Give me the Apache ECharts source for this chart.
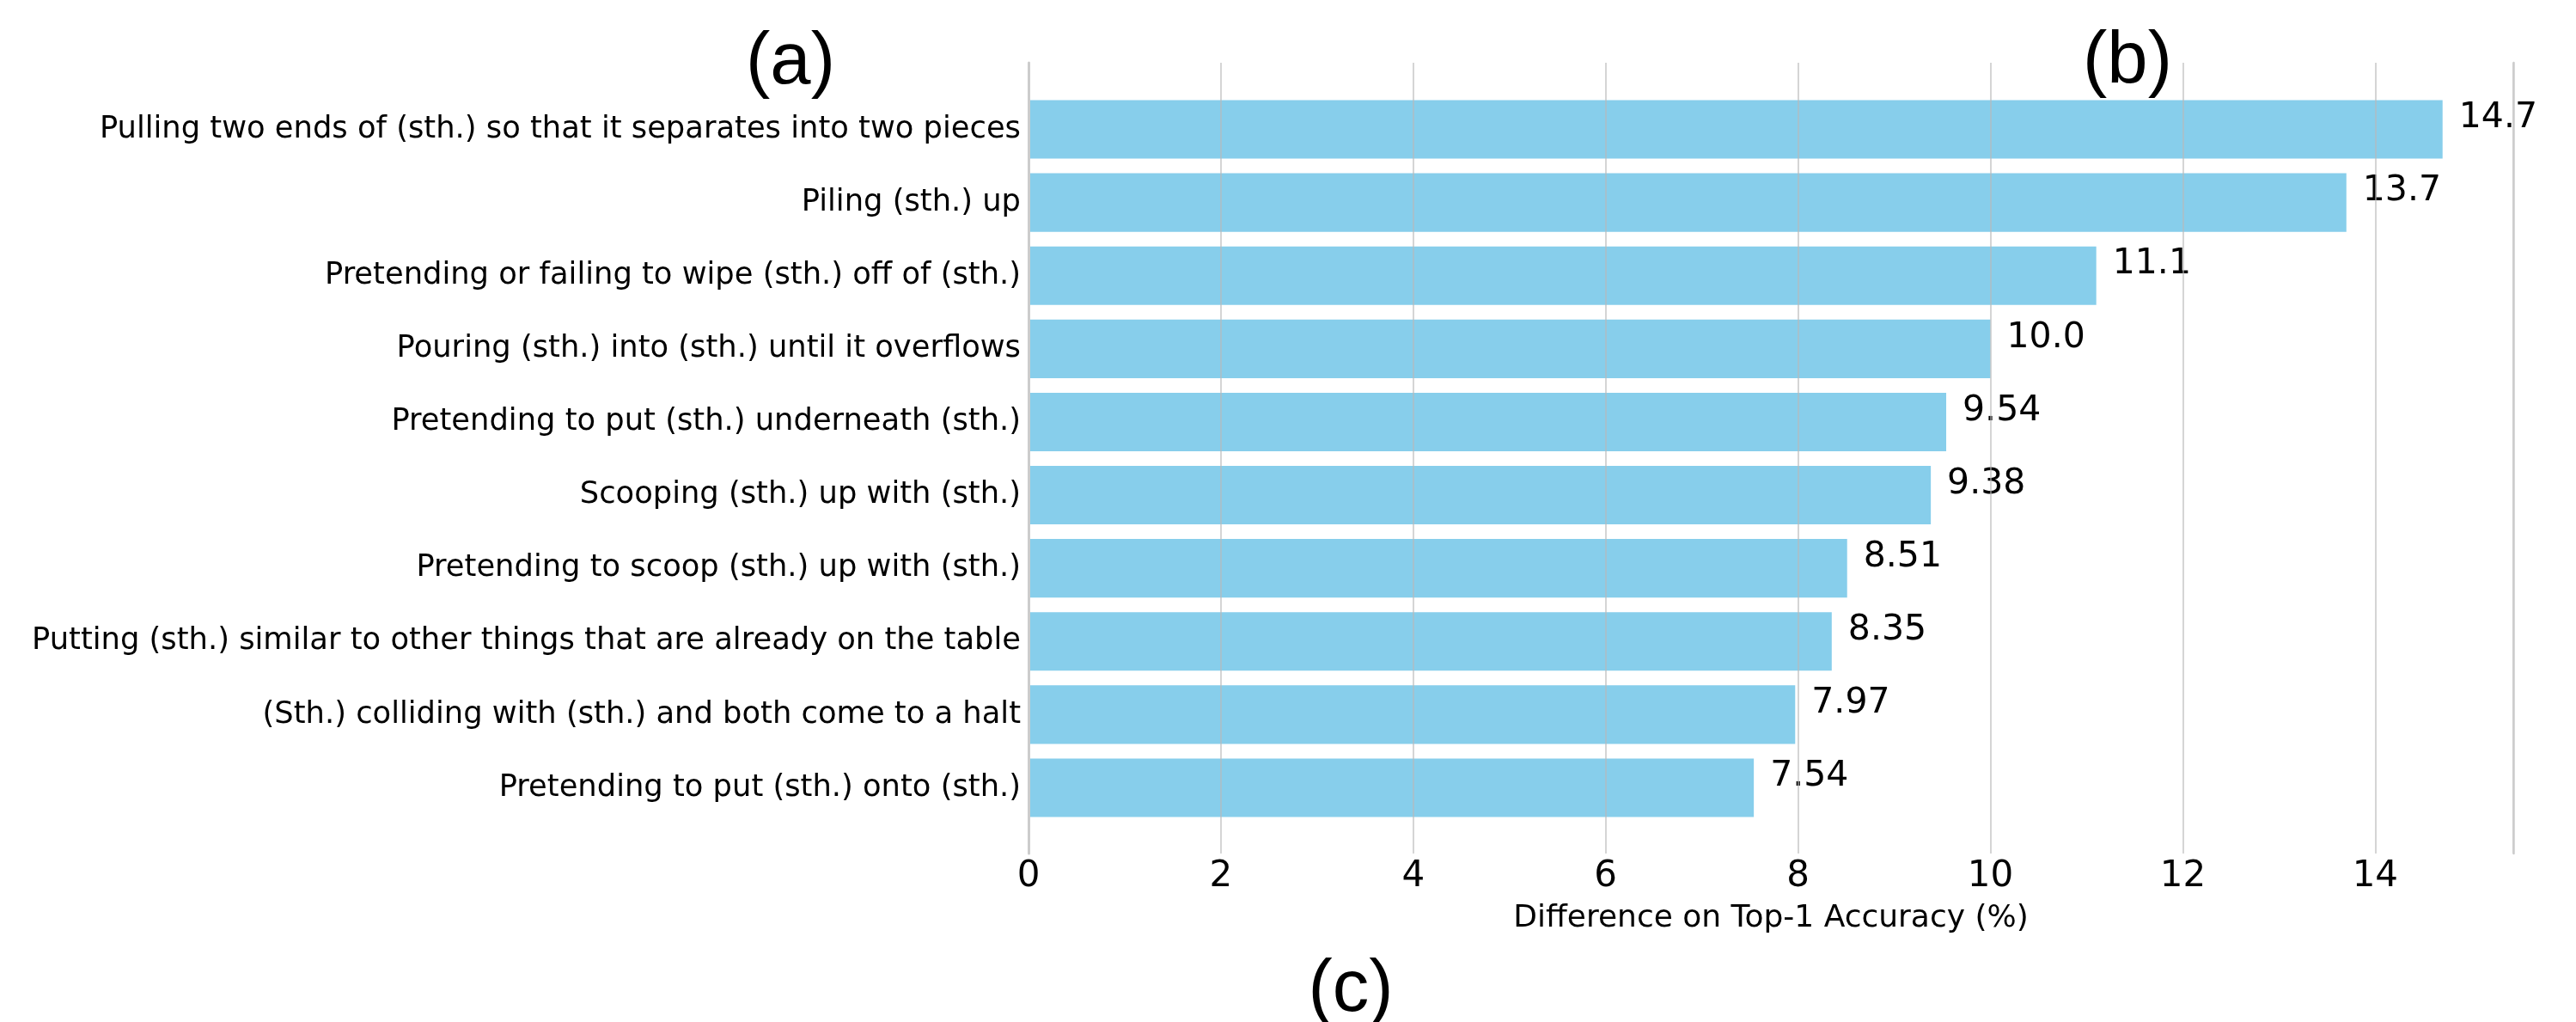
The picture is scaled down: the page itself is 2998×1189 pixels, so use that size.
<!DOCTYPE html>
<html>
<head>
<meta charset="utf-8">
<script src="https://cdn.jsdelivr.net/npm/echarts@6/dist/echarts.min.js"></script>
<style>
html,body{margin:0;padding:0;background:#fff;}
#chart{width:2998px;height:1189px;}
</style>
</head>
<body>
<div id="chart"></div>
<script>
const categories = [
  "Pulling two ends of (sth.) so that it separates into two pieces",
  "Piling (sth.) up",
  "Pretending or failing to wipe (sth.) off of (sth.)",
  "Pouring (sth.) into (sth.) until it overflows",
  "Pretending to put (sth.) underneath (sth.)",
  "Scooping (sth.) up with (sth.)",
  "Pretending to scoop (sth.) up with (sth.)",
  "Putting (sth.) similar to other things that are already on the table",
  "(Sth.) colliding with (sth.) and both come to a halt",
  "Pretending to put (sth.) onto (sth.)"
];
const values = [14.7, 13.7, 11.1, 10.0, 9.54, 9.38, 8.51, 8.35, 7.97, 7.54];
const xTicks = [0, 2, 4, 6, 8, 10, 12, 14];
const xMax = 15.435;
const xAxisName = "Difference on Top-1 Accuracy (%)";
const panelLabels = ["(a)", "(b)", "(c)"];

const FONT = "DejaVu Sans";
const chart = echarts.init(document.getElementById('chart'), null, {renderer: 'canvas'});

const option = {
  backgroundColor: '#ffffff',
  animation: false,
  grid: [
    {left: 1197, top: 73, width: 1728, height: 920},
    {left: 1197, top: 108, width: 1728, height: 851}
  ],
  xAxis: [
    {
      gridIndex: 0, type: 'value', min: 0, max: xMax, interval: 2, z: 3,
      axisLine: {show: false}, axisTick: {show: false},
      splitLine: {show: true, lineStyle: {color: 'rgba(185,185,185,0.6)', width: 2}},
      axisLabel: {
        fontFamily: FONT, fontSize: 42, color: '#000', margin: 6, showMaxLabel: false,
        formatter: v => (xTicks.indexOf(v) >= 0 ? String(v) : '')
      },
      name: xAxisName, nameLocation: 'middle', nameGap: 58,
      nameTextStyle: {fontFamily: FONT, fontSize: 36, color: '#000'}
    },
    {gridIndex: 1, type: 'value', min: 0, max: xMax, show: false}
  ],
  yAxis: [
    {
      gridIndex: 0, type: 'value', min: 0, max: 1, position: 'left', z: 3,
      axisLine: {show: true, lineStyle: {color: '#cccccc', width: 3}},
      axisTick: {show: false}, axisLabel: {show: false}, splitLine: {show: false}
    },
    {
      gridIndex: 0, type: 'value', min: 0, max: 1, position: 'right', z: 3,
      axisLine: {show: true, lineStyle: {color: '#cccccc', width: 2.5}},
      axisTick: {show: false}, axisLabel: {show: false}, splitLine: {show: false}
    },
    {
      gridIndex: 1, type: 'category', inverse: true, data: categories,
      axisLine: {show: false}, axisTick: {show: false}, splitLine: {show: false},
      axisLabel: {fontFamily: FONT, fontSize: 35.3, color: '#000', margin: 9}
    }
  ],
  series: [{
    type: 'bar', xAxisIndex: 1, yAxisIndex: 2, data: values,
    barWidth: '80%', z: 2,
    itemStyle: {color: '#87CEEB'},
    label: {
      show: true, position: 'right', distance: 19, offset: [0, -13],
      fontFamily: FONT, fontSize: 41, color: '#000',
      formatter: p => Number(p.value).toPrecision(3)
    }
  }],
  graphic: [
    {type: 'text', x: 920, y: 74, style: {text: panelLabels[0], font: '85px "Liberation Sans"', fill: '#000', textAlign: 'center', textVerticalAlign: 'middle'}},
    {type: 'text', x: 2476, y: 73, style: {text: panelLabels[1], font: '85px "Liberation Sans"', fill: '#000', textAlign: 'center', textVerticalAlign: 'middle'}},
    {type: 'text', x: 1572, y: 1153, style: {text: panelLabels[2], font: '85px "Liberation Sans"', fill: '#000', textAlign: 'center', textVerticalAlign: 'middle'}}
  ]
};
chart.setOption(option);
</script>
</body>
</html>
